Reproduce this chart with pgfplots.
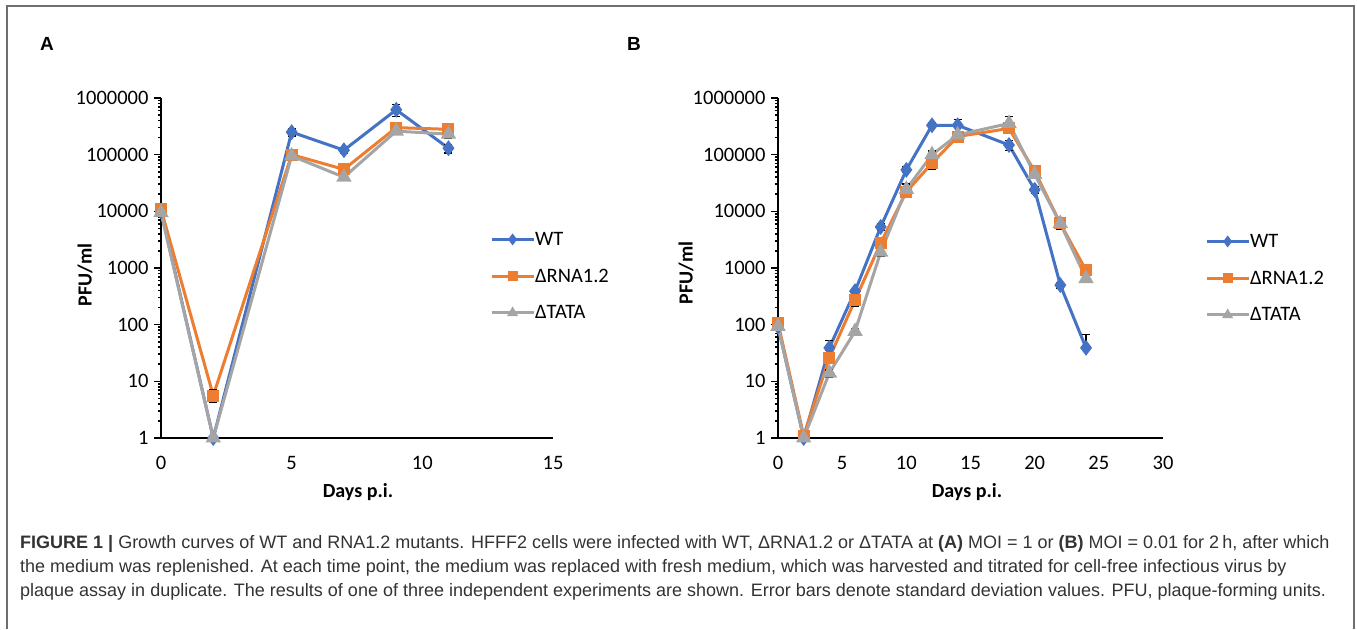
\documentclass[border=0pt]{standalone}
\usepackage{pgfplots}
\pgfplotsset{compat=1.18}
\usepackage{fontspec}
\setmainfont{Carlito}
\newfontfamily\arialfont{Liberation Sans}

\definecolor{wtblue}{RGB}{68,114,196}
\definecolor{rnaorange}{RGB}{237,125,49}
\definecolor{tatagray}{RGB}{165,165,165}
\definecolor{framegray}{RGB}{110,110,110}

\tikzset{
  wt/.style={color=wtblue, line width=3pt, mark=diamond*, mark size=5.5pt},
  rna/.style={color=rnaorange, line width=3pt, mark=square*, mark size=4.5pt},
  tata/.style={color=tatagray, line width=3pt, mark=triangle*, mark size=6pt},
}

\pgfplotsset{
  every axis/.append style={
    scale only axis,
    height=340pt,
    ymin=1, ymax=1000000,
    ytick={1,10,100,1000,10000,100000,1000000},
    yticklabels={1,10,100,1000,10000,100000,1000000},
    axis x line=bottom, axis y line=left,
    axis line style={-, line width=2pt, black},
    tick align=outside,
    major tick length=7pt,
    ytick style={line width=1.6pt, black},
    xtick style={draw=none},
    ticklabel style={font=\fontsize{20.5}{24}\selectfont},
    xticklabel style={yshift=-8pt},
    yticklabel style={xshift=-2pt},
    clip=false,
    legend cell align=left,
    legend style={draw=none, fill=none, inner sep=0pt,
      nodes={inner sep=0pt, font=\fontsize{20.5}{24}\selectfont},
      row sep=22pt, anchor=west},
  },
}

\begin{document}
\begin{tikzpicture}
\begin{scope}[x=1pt, y=1pt]
\useasboundingbox (0,0) rectangle (1357,629);
\draw[framegray, line width=2pt] (7,0) -- (7,623) -- (1354,623) -- (1354,0);
\end{scope}

% panel A
\begin{axis}[ymode=log,
  at={(161pt,191pt)}, anchor=south west, width=392pt,
  xmin=0, xmax=15,
  xtick={0,5,10,15}, xticklabels={0,5,10,15},
  legend style={at={(rel axis cs:0.839,0.476)}},
  legend image code/.code={\draw[#1, mark size=3.5pt, mark repeat=2, mark phase=2]
    plot coordinates {(0pt,0pt) (21pt,0pt) (42pt,0pt)};},
  error bars/y dir=both, error bars/y explicit,
  error bars/error bar style={line width=1.5pt, black},
  error bars/error mark options={rotate=90, mark size=4pt, line width=1.5pt, black},
]
\addplot[wt] coordinates {
  (0,10000) +- (0,800)
  (2,1) +- (0,0.1)
  (5,250000) +- (0,35000)
  (7,120000) +- (0,12000)
  (9,620000) +- (0,150000)
  (11,130000) +- (0,22000)
};
\addplot[rna] coordinates {
  (0,11000) +- (0,900)
  (2,5.6) +- (0,1.4)
  (5,100000) +- (0,8000)
  (7,55000) +- (0,5000)
  (9,300000) +- (0,25000)
  (11,280000) +- (0,20000)
};
\addplot[tata] coordinates {
  (0,9500) +- (0,700)
  (2,1) +- (0,0.1)
  (5,95000) +- (0,7000)
  (7,40000) +- (0,4000)
  (9,260000) +- (0,20000)
  (11,230000) +- (0,35000)
};
\legend{WT, ΔRNA1.2, ΔTATA}
\end{axis}

% panel B
\begin{axis}[ymode=log,
  at={(778pt,191pt)}, anchor=south west, width=385pt,
  xmin=0, xmax=30,
  xtick={0,5,10,15,20,25,30}, xticklabels={0,5,10,15,20,25,30},
  legend style={at={(rel axis cs:1.109,0.47)}},
  legend image code/.code={\draw[#1, mark size=3.5pt, mark repeat=2, mark phase=2]
    plot coordinates {(0pt,0pt) (21pt,0pt) (42pt,0pt)};},
  error bars/y dir=both, error bars/y explicit,
  error bars/error bar style={line width=1.5pt, black},
  error bars/error mark options={rotate=90, mark size=4pt, line width=1.5pt, black},
]
\addplot[wt] coordinates {
  (0,93) +- (0,8)
  (2,1) +- (0,0.1)
  (4,39) += (0,14) -= (0,4)
  (6,390) +- (0,40)
  (8,5300) +- (0,700)
  (10,54000) +- (0,6000)
  (12,330000) +- (0,30000)
  (14,330000) += (0,90000) -= (0,30000)
  (18,148000) +- (0,30000)
  (20,24000) +- (0,3000)
  (22,500) +- (0,60)
  (24,39) += (0,28) -= (0,4)
};
\addplot[rna] coordinates {
  (0,107) +- (0,8)
  (2,1.1) +- (0,0.1)
  (4,26) +- (0,4)
  (6,270) +- (0,60)
  (8,2750) +- (0,700)
  (10,22000) +- (0,3000)
  (12,71000) +- (0,15000)
  (14,209000) +- (0,30000)
  (18,290000) +- (0,50000)
  (20,51000) +- (0,12000)
  (22,6100) +- (0,1200)
  (24,910) +- (0,180)
};
\addplot[tata] coordinates {
  (0,93) +- (0,8)
  (2,1) +- (0,0.1)
  (4,14) +- (0,2)
  (6,76) +- (0,8)
  (8,1900) +- (0,300)
  (10,24500) +- (0,6000)
  (12,100000) +- (0,15000)
  (14,223000) +- (0,30000)
  (18,355000) += (0,120000) -= (0,30000)
  (20,45000) +- (0,6000)
  (22,6100) +- (0,800)
  (24,650) +- (0,100)
};
\legend{WT, ΔRNA1.2, ΔTATA}
\end{axis}

\begin{scope}[x=1pt, y=1pt]
% panel letters and axis titles
\node[font=\arialfont\bfseries\fontsize{19}{22}\selectfont] at (47,585) {A};
\node[font=\arialfont\bfseries\fontsize{19}{22}\selectfont] at (634,585) {B};
\node[font=\bfseries\fontsize{20}{24}\selectfont, rotate=90] at (85,354) {PFU/ml};
\node[font=\bfseries\fontsize{20}{24}\selectfont, rotate=90] at (686,356) {PFU/ml};
\node[font=\bfseries\fontsize{20}{24}\selectfont] at (358,137) {Days p.i.};
\node[font=\bfseries\fontsize{20}{24}\selectfont] at (967,137) {Days p.i.};

% caption
\begin{scope}[every node/.style={anchor=base west, inner sep=0pt, text=black!80,
    font=\arialfont\fontsize{18}{22}\selectfont}]
\node at (20,80) {\textbf{FIGURE 1 |} Growth curves of WT and RNA1.2 mutants. HFFF2 cells were infected with WT, ΔRNA1.2 or ΔTATA at \textbf{(A)} MOI = 1 or \textbf{(B)} MOI = 0.01 for 2\,h, after which};
\node at (20,56) {the medium was replenished. At each time point, the medium was replaced with fresh medium, which was harvested and titrated for cell-free infectious virus by};
\node at (20,32) {plaque assay in duplicate. The results of one of three independent experiments are shown. Error bars denote standard deviation values. PFU, plaque-forming units.};
\end{scope}
\end{scope}
\end{tikzpicture}
\end{document}
